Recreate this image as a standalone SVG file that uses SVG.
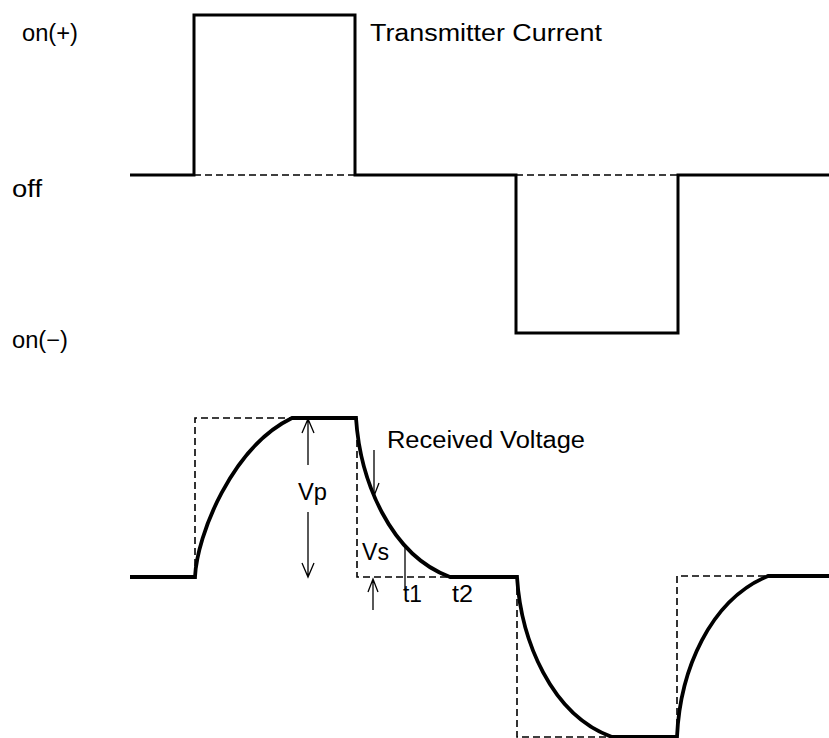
<svg xmlns="http://www.w3.org/2000/svg" width="829" height="738" viewBox="0 0 829 738">
<style>
.txt{font-family:"Liberation Sans",Arial,sans-serif;font-size:23px;fill:#000}
.thick{fill:none;stroke:#000;stroke-width:3;stroke-linejoin:miter}
.thick2{fill:none;stroke:#000;stroke-width:3.8}
.dash{fill:none;stroke:#000;stroke-width:1.6;stroke-dasharray:7 4}
.thin{fill:none;stroke:#000;stroke-width:1.3}
</style>
<rect width="829" height="738" fill="#fff"/>
<g id="labels">
<text class="txt" x="22" y="41" textLength="56" lengthAdjust="spacingAndGlyphs">on(+)</text>
<text class="txt" x="12" y="197" textLength="30" lengthAdjust="spacingAndGlyphs">off</text>
<text class="txt" x="12" y="348" textLength="56" lengthAdjust="spacingAndGlyphs">on(−)</text>
<text class="txt" x="370" y="41" textLength="232" lengthAdjust="spacingAndGlyphs">Transmitter Current</text>
<text class="txt" x="387" y="448" textLength="198" lengthAdjust="spacingAndGlyphs">Received Voltage</text>
<text class="txt" x="298" y="500" textLength="29" lengthAdjust="spacingAndGlyphs">Vp</text>
<text class="txt" x="362" y="560" textLength="27" lengthAdjust="spacingAndGlyphs">Vs</text>
<text class="txt" x="403" y="602" textLength="19" lengthAdjust="spacingAndGlyphs">t1</text>
<text class="txt" x="452" y="602" textLength="21" lengthAdjust="spacingAndGlyphs">t2</text>
</g>
<g id="transmitter">
<path class="dash" d="M194,175 H355 M516,175 H678"/>
<path class="thick" d="M130,175 H194 V15 H355 V175 H516 V333 H678 V175 H829"/>
</g>
<g id="received">
<path class="dash" d="M195,577 V418 H292 M357,418 V577 H450 M517,577 V737 H612 M677,737 V576 H768"/>
<path class="thick2" d="M130,577 H195 C197,535 232,447 292,418 H356 C360,480 390,555 450,577 H517 C521,640 551,715 612,737 H677 C680,670 710,600 768,576 H829"/>
</g>
<g id="connectors">
<path class="thin" d="M308,419 V465 M302,433 L308,419 L314,433"/>
<path class="thin" d="M308,512 V577 M302,563 L308,577 L314,563"/>
<path class="thin" d="M374,450 V496 M369,483 L374,496 L379,483"/>
<path class="thin" d="M373,579 V610 M368,592 L373,579 L378,592"/>
<path class="thin" d="M405,545 V590"/>
</g>
</svg>
